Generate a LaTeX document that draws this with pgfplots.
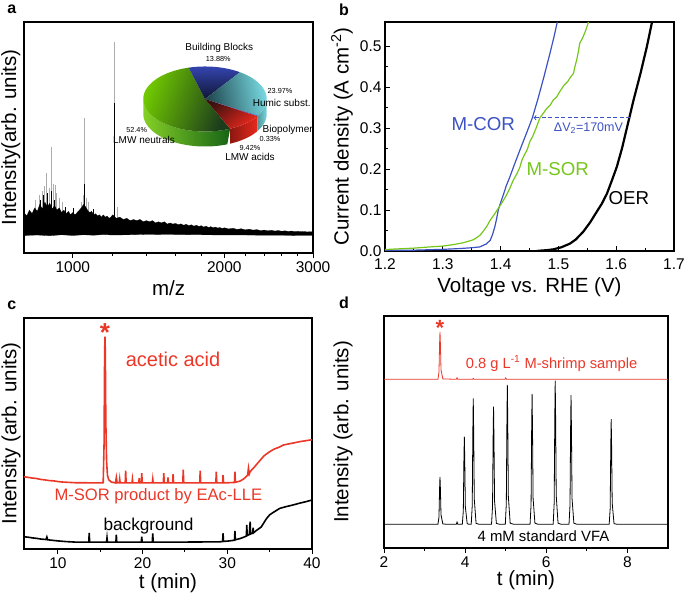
\documentclass[border=0pt]{standalone}
\usepackage{fontspec}
\setmainfont{Liberation Sans}
\usepackage{pgfplots}
\pgfplotsset{compat=1.18}
\definecolor{ored}{RGB}{235,55,40}
\definecolor{oblue}{RGB}{60,82,195}
\definecolor{ogreen}{RGB}{118,198,28}
\definecolor{gL}{RGB}{112,200,0}
\definecolor{gD}{RGB}{28,60,28}
\definecolor{bL}{RGB}{52,68,175}
\definecolor{bD}{RGB}{16,22,50}
\definecolor{cL}{RGB}{120,216,224}
\definecolor{cD}{RGB}{30,70,78}
\definecolor{rL}{RGB}{232,40,28}
\definecolor{rD}{RGB}{60,16,16}
\newcommand{\fs}[1]{\fontsize{#1}{#1}\selectfont}
\begin{document}
\begin{tikzpicture}
\useasboundingbox (0,0) rectangle (685pt,594pt);
\pgfplotsset{every axis/.append style={scale only axis, anchor=south west,
  axis line style={line width=1.1pt}, tick style={line width=0.9pt, black},
  major tick length=5pt, minor tick length=3pt,
  label style={font=\fs{20.5}}, tick label style={font=\fs{15.5}},
  /pgf/number format/assume math mode=true}}
% ---------------- panel a ----------------
\begin{axis}[at={(24pt,341pt)}, width=289pt, height=231pt,
  xmode=log, xmin=800, xmax=3000, ymin=0, ymax=100, ytick=\empty,
  xtick={1000,2000,3000}, xticklabels={1000,2000,3000},
  minor xtick={1200,1400,1600,1800,2200,2400,2600,2800},
  xtick pos=left, tick align=outside, unbounded coords=jump,
  xlabel={m/z}, ylabel={Intensity(arb. units)},
  xlabel style={at={(axis description cs:0.5,-0.152)}, anchor=center},
  ylabel style={at={(axis description cs:-0.046,0.5)}, anchor=center}]
\addplot[gray!65, line width=0.5pt] coordinates {
(842,12)(842,23)(842,nan)(856,12)(856,25)(856,nan)(868,12)(868,27)(868,nan)(878,12)(878,29)(878,nan)
(887,12)(887,34.6)(887,nan)(896,12)(896,28)(896,nan)(908,12)(908,46)(908,nan)(915,12)(915,30)(915,nan)
(923,12)(923,29.4)(923,nan)(929,12)(929,26)(929,nan)(942,12)(942,24)(942,nan)(955,12)(955,22)(955,nan)
(1040,12)(1040,22)(1040,nan)(1048,12)(1048,25)(1048,nan)(1054,12)(1054,58.4)(1054,nan)(1062,12)(1062,24)(1062,nan)
(1075,12)(1075,22)(1075,nan)(1208,12)(1208,91.5)(1208,nan)(1225,12)(1225,20)};
\addplot[fill=black, draw=black, line width=0.3pt] coordinates {
(800,17.5)(810,16.0)(820,18.5)(830,17.0)(840,19.5)(850,18.0)(860,21.0)(870,19.0)(880,22.0)(890,20.0)
(900,21.5)(910,19.0)(920,20.5)(930,18.5)(940,19.5)(950,17.5)(960,18.5)(970,17.0)(980,18.0)(990,16.5)
(1000,17.5)(1010,16.5)(1020,17.5)(1030,18.5)(1040,19.5)(1050,21.0)(1060,20.0)(1070,18.5)(1080,17.5)(1090,18.0)
(1100,16.5)(1110,17.0)(1120,16.0)(1130,16.5)(1140,15.5)(1150,16.5)(1160,15.5)(1170,16.0)(1180,15.0)(1190,15.5)
(1200,16.5)(1220,15.0)(1240,15.5)(1260,14.5)(1280,15.0)(1300,14.0)(1320,14.5)(1340,14.0)(1360,14.5)(1380,13.5)
(1400,14.0)(1420,13.5)(1440,14.0)(1460,13.0)(1480,13.5)(1500,13.0)(1520,13.5)(1540,12.5)(1560,13.0)(1580,12.5)
(1600,12.8)(1620,12.2)(1640,12.6)(1660,12.0)(1680,12.4)(1700,11.8)(1720,12.2)(1740,11.6)(1760,12.0)(1780,11.5)
(1800,11.8)(1820,11.2)(1840,11.6)(1860,11.0)(1880,11.4)(1900,10.9)(1920,11.2)(1940,10.8)(1960,11.0)(1980,10.6)
(2000,10.9)(2040,10.4)(2080,10.7)(2120,10.2)(2160,10.5)(2200,10.0)(2240,10.3)(2280,9.9)(2320,10.1)(2360,9.7)
(2400,9.9)(2440,9.6)(2480,9.8)(2520,9.5)(2560,9.7)(2600,9.4)(2640,9.6)(2680,9.3)(2720,9.5)(2760,9.2)
(2800,9.4)(2840,9.2)(2880,9.3)(2920,9.1)(2960,9.2)(3000,9.1)
(3000,7.6)(2800,7.6)(2600,7.7)(2400,7.7)(2200,7.8)(2000,7.8)(1800,7.9)(1600,8.0)(1400,8.1)(1300,7.9)
(1200,7.8)(1150,8.0)(1100,7.7)(1050,7.9)(1000,7.6)(950,7.9)(900,7.5)(850,7.8)(800,7.6)} -- cycle;
\addplot[black, line width=0.45pt] coordinates {
(860,12)(860,23)(860,nan)(875,12)(875,25)(875,nan)(890,12)(890,26)(890,nan)(905,12)(905,27)(905,nan)
(920,12)(920,23)(920,nan)(965,12)(965,20)(965,nan)(1000,12)(1000,19.5)(1000,nan)(1052,12)(1052,24)(1052,nan)
(1056,12)(1056,30)(1056,nan)(1100,12)(1100,19)(1100,nan)(1208,12)(1208,65)};
\end{axis}
% ---------------- pie inset ----------------
\begin{axis}[at={(135pt,445pt)}, width=140pt, height=90pt, hide axis,
  xmin=-70, xmax=70, ymin=-50, ymax=40, clip=false]
% side walls
\addplot[draw=none, left color=gL!85!white, right color=gD!80!green, domain=0:2, samples=81, variable=\t]
 ({61.7*cos(-180+114.04*ifthenelse(\t<=1,\t,2-\t))},{32.5*sin(-180+114.04*ifthenelse(\t<=1,\t,2-\t))-15*ifthenelse(\t<=1,0,1)}) -- cycle;
\addplot[draw=none, left color=rL!60!black, right color=rL, domain=0:2, samples=81, variable=\t]
 ({61.7*cos(-65.96+33.91*ifthenelse(\t<=1,\t,2-\t))},{32.5*sin(-65.96+33.91*ifthenelse(\t<=1,\t,2-\t))-15*ifthenelse(\t<=1,0,1)}) -- cycle;
\addplot[draw=none, fill=oblue!80!cyan, domain=0:2, samples=21, variable=\t]
 ({61.7*cos(-32.05+1.19*ifthenelse(\t<=1,\t,2-\t))},{32.5*sin(-32.05+1.19*ifthenelse(\t<=1,\t,2-\t))-15*ifthenelse(\t<=1,0,1)}) -- cycle;
\addplot[draw=none, left color=cL!70!black, right color=cL, domain=0:2, samples=41, variable=\t]
 ({61.7*cos(-30.86+30.86*ifthenelse(\t<=1,\t,2-\t))},{32.5*sin(-30.86+30.86*ifthenelse(\t<=1,\t,2-\t))-15*ifthenelse(\t<=1,0,1)}) -- cycle;
% top faces
\addplot[draw=none, top color=gL, bottom color=gD, shading angle=70, domain=-254.6:-65.96, samples=80, variable=\t]
 ({61.7*cos(\t)},{32.5*sin(\t)}) -- (axis cs:0,0) -- cycle;
\addplot[draw=none, top color=bL, bottom color=bD, domain=55.43:105.4, samples=30, variable=\t]
 ({61.7*cos(\t)},{32.5*sin(\t)}) -- (axis cs:0,0) -- cycle;
\addplot[draw=none, top color=cL, bottom color=cD, shading angle=-78, domain=-30.86:55.43, samples=40, variable=\t]
 ({61.7*cos(\t)},{32.5*sin(\t)}) -- (axis cs:0,0) -- cycle;
\addplot[draw=none, fill=oblue, domain=-32.05:-30.86, samples=5, variable=\t]
 ({61.7*cos(\t)},{32.5*sin(\t)}) -- (axis cs:0,0) -- cycle;
\addplot[draw=none, top color=rL, bottom color=rD, shading angle=-139, domain=-65.96:-32.05, samples=30, variable=\t]
 ({61.7*cos(\t)},{32.5*sin(\t)}) -- (axis cs:0,0) -- cycle;
\node[font=\fs{10}] at (axis cs:14.3,50.7) {Building Blocks};
\node[font=\fs{7.3}] at (axis cs:13.3,39.7) {13.88\%};
\node[font=\fs{7.3}] at (axis cs:75,8.3) {23.97\%};
\node[font=\fs{10}] at (axis cs:76.7,-3.7) {Humic subst.};
\node[font=\fs{10}] at (axis cs:82.7,-31) {Biopolymer};
\node[font=\fs{7.3}] at (axis cs:65,-40.3) {0.33\%};
\node[font=\fs{7.3}] at (axis cs:45,-49.3) {9.42\%};
\node[font=\fs{10}] at (axis cs:45,-57.7) {LMW acids};
\node[font=\fs{7.3}] at (axis cs:-68.3,-31) {52.4\%};
\node[font=\fs{10}] at (axis cs:-61,-41) {LMW neutrals};
\end{axis}
% ---------------- panel b ----------------
\begin{axis}[at={(385pt,343pt)}, width=289pt, height=229pt,
  xmin=1.2, xmax=1.7, ymin=0, ymax=0.5585,
  xtick={1.2,1.3,1.4,1.5,1.6,1.7}, ytick={0,0.1,0.2,0.3,0.4,0.5},
  minor x tick num=1, minor y tick num=1, tick pos=left, tick align=inside,
  xticklabel style={yshift=-4pt, /pgf/number format/.cd, fixed, fixed zerofill, precision=1},
  yticklabel style={/pgf/number format/.cd, fixed, fixed zerofill, precision=1},
  xlabel={Voltage vs. RHE (V)}, ylabel={Current density (A cm\textsuperscript{-2})},
  xlabel style={at={(axis description cs:0.5,-0.16)}, anchor=center},
  ylabel style={at={(axis description cs:-0.149,0.5)}, anchor=center}]
\addplot[oblue, line width=1.2pt] coordinates {
(1.20,0.002)(1.25,0.002)(1.30,0.004)(1.33,0.006)(1.35,0.008)(1.364,0.010)(1.375,0.017)(1.382,0.026)(1.386,0.04)(1.39,0.059)(1.393,0.078)(1.396,0.10)(1.40,0.118)(1.405,0.138)(1.41,0.16)(1.415,0.177)(1.425,0.215)(1.435,0.252)(1.445,0.288)(1.455,0.325)(1.465,0.373)(1.475,0.425)(1.485,0.48)(1.492,0.52)(1.498,0.558)};
\addplot[ogreen, line width=1.2pt] coordinates {
(1.20,0.0035)(1.22,0.005)(1.25,0.007)(1.278,0.010)(1.30,0.012)(1.32,0.016)(1.335,0.020)(1.345,0.024)(1.352,0.027)(1.358,0.032)(1.364,0.038)(1.37,0.048)(1.376,0.060)(1.382,0.075)(1.389,0.089)(1.396,0.104)(1.403,0.119)(1.41,0.136)(1.416,0.153)(1.422,0.173)(1.428,0.188)(1.433,0.203)(1.437,0.222)(1.441,0.234)(1.446,0.247)(1.451,0.268)(1.456,0.281)(1.462,0.302)(1.468,0.325)(1.474,0.336)(1.48,0.348)(1.486,0.356)(1.491,0.368)(1.497,0.376)(1.503,0.39)(1.51,0.405)(1.516,0.413)(1.52,0.422)(1.526,0.433)(1.529,0.452)(1.532,0.468)(1.535,0.49)(1.537,0.507)(1.542,0.52)(1.547,0.537)(1.552,0.5585)};
\addplot[black, line width=2.2pt] coordinates {
(1.462,0.0)(1.47,0.001)(1.48,0.002)(1.491,0.004)(1.505,0.009)(1.52,0.018)(1.53,0.028)(1.543,0.047)(1.555,0.07)(1.566,0.095)(1.575,0.115)(1.584,0.14)(1.592,0.17)(1.601,0.205)(1.61,0.25)(1.619,0.303)(1.63,0.368)(1.642,0.433)(1.653,0.498)(1.662,0.5585)};
\addplot[oblue, line width=0.9pt, dash pattern=on 4pt off 2.5pt, ->] coordinates {(1.624,0.325) (1.457,0.325)};
\node[oblue, font=\fs{18.7}, anchor=base] at (axis cs:1.370,0.295) {M-COR};
\node[ogreen, font=\fs{18.7}, anchor=base] at (axis cs:1.499,0.185) {M-SOR};
\node[black, font=\fs{18.7}, anchor=base] at (axis cs:1.622,0.114) {OER};
\node[oblue, font=\fs{12.5}, anchor=base] at (axis cs:1.552,0.292) {ΔV\textsubscript{2}=170mV};
\end{axis}
% ---------------- panel c ----------------
\begin{axis}[at={(24pt,45pt)}, width=288pt, height=231pt,
  xmin=6, xmax=40, ymin=0, ymax=100, ytick=\empty,
  xtick={10,20,30,40}, minor xtick={15,25,35}, xtick pos=left, tick align=outside,
  xlabel={t (min)}, ylabel={Intensity (arb. units)},
  xlabel style={at={(axis description cs:0.5,-0.147)}, anchor=center},
  ylabel style={at={(axis description cs:-0.045,0.5)}, anchor=center}]
\addplot[ored, line width=1.6pt] coordinates {
(6,31.3)(6.5,31.0)(7,30.7)(7.5,30.5)(8,30.1)(8.5,29.9)(9,29.6)(9.5,29.5)(10,29.2)(10.5,29.0)(11,28.9)(11.5,28.8)(12,28.7)(13,28.7)(14,28.6)(15,28.6)(15.35,28.7)(15.45,45)(15.52,85)(15.56,91.9)(15.60,85)(15.66,55)(15.75,38)(15.85,32)(16.0,30.0)(16.3,29.0)(16.8,28.6)(16.9,31.0)(17.0,28.6)(17.25,28.6)(17.3,30.2)(17.35,28.6)(17.95,28.6)(18.0,33.9)(18.06,28.6)(18.75,28.6)(18.8,30.2)(18.85,28.6)(19.55,28.6)(19.6,30.6)(19.65,28.6)(19.85,28.6)(19.9,32.8)(19.96,28.6)(21.15,28.6)(21.2,30.2)(21.25,28.6)(22.45,28.6)(22.5,32.8)(22.56,28.6)(22.95,28.6)(23.0,31.0)(23.05,28.6)(23.55,28.6)(23.6,32.4)(23.66,28.6)(24.75,28.6)(24.8,34.3)(24.86,28.6)(26.75,28.6)(26.8,33.9)(26.86,28.6)(28.65,28.6)(28.7,33.5)(28.76,28.6)(29.45,28.6)(29.5,32.0)(29.56,28.6)(30.85,28.8)(30.9,33.5)(30.96,28.9)(31.5,29.4)(32.0,30.5)(32.4,32.0)(32.5,35.0)(32.6,32.5)(32.7,33.5)(33.2,35.5)(33.9,38.5)(34.3,40.2)(34.65,41.2)(35.0,42.1)(35.5,43.2)(36.2,44.2)(36.6,45.0)(37.4,45.6)(38.2,46.2)(38.6,46.5)(39.3,46.9)(40,47.3)};
\addplot[black, line width=1.6pt] coordinates {
(6,5.3)(6.5,5.1)(7,4.8)(7.5,4.6)(8,4.3)(8.6,4.1)(8.7,5.2)(8.8,4.0)(9,3.9)(10,3.5)(11,3.2)(12,3.0)(13.65,3.0)(13.7,7.0)(13.75,3.0)(15.75,3.0)(15.8,4.8)(15.85,3.0)(16.85,3.0)(16.9,6.2)(16.95,3.0)(19.85,3.0)(19.9,5.3)(19.95,3.0)(21.15,3.0)(21.2,6.8)(21.25,3.0)(25,3.0)(29,3.1)(29.45,3.2)(29.5,6.8)(29.55,3.3)(30,3.4)(30.85,3.8)(30.9,7.8)(30.95,4.0)(31.5,4.5)(32.0,5.2)(32.25,5.6)(32.3,10.4)(32.35,5.8)(32.6,6.3)(32.7,11.8)(32.75,6.5)(33,6.9)(33.05,9.2)(33.1,7.0)(33.5,8.2)(34,9.5)(34.6,13.0)(35,14.8)(35.5,16.0)(36.2,17.6)(37,18.4)(37.7,19.0)(38.5,19.8)(39.3,20.5)(40,21.2)};
\node[ored, font=\fs{26}\bfseries] at (axis cs:15.56,93.5) {*};
\node[ored, font=\fs{20}, anchor=base] at (axis cs:23.6,79.2) {acetic acid};
\node[ored, font=\fs{16.6}, anchor=base] at (axis cs:21.86,20.9) {M-SOR product by EAc-LLE};
\node[black, font=\fs{17.2}, anchor=base] at (axis cs:20.7,7.8) {background};
\end{axis}
% ---------------- panel d ----------------
\begin{axis}[at={(384pt,46pt)}, width=284pt, height=232pt,
  xmin=2, xmax=9, ymin=0, ymax=100, ytick=\empty,
  xtick={2,4,6,8}, minor xtick={3,5,7}, xtick pos=left, tick align=outside,
  xlabel={t (min)}, ylabel={Intensity (arb. units)},
  xlabel style={at={(axis description cs:0.5,-0.14)}, anchor=center},
  ylabel style={at={(axis description cs:-0.144,0.5)}, anchor=center}]
\addplot[ored, line width=0.8pt] coordinates {
(2,72.7)(3.33,72.7)(3.355,75.8)(3.37,88.1)(3.38,93.2)(3.39,88.1)(3.405,76.8)(3.45,72.9)(3.78,72.7)(3.8,73.4)(3.82,72.7)(4.18,72.7)(4.2,73.1)(4.22,72.7)(4.98,72.7)(5.0,73.3)(5.02,72.7)(9,72.7)};
\addplot[black, line width=0.8pt] coordinates {
(2,10.2)(3.33,10.2)(3.355,13.3)(3.37,25.6)(3.38,30.7)(3.39,25.6)(3.405,14.3)(3.45,10.4)(3.55,10.2)
(3.78,10.2)(3.8,11.2)(3.82,10.2)
(3.93,10.2)(3.955,15.9)(3.97,38.6)(3.98,48.0)(3.99,38.6)(4.005,17.8)(4.05,10.5)(4.1,10.2)
(4.15,10.2)(4.175,18.3)(4.19,50.9)(4.20,64.5)(4.21,50.9)(4.225,21.1)(4.27,10.6)(4.35,10.2)
(4.65,10.2)(4.675,17.8)(4.69,48.2)(4.70,60.9)(4.71,48.2)(4.725,20.3)(4.77,10.6)(4.85,10.2)
(4.99,10.2)(5.015,19.2)(5.03,55.3)(5.04,70.3)(5.05,55.3)(5.065,22.2)(5.11,10.7)(5.2,10.2)
(5.60,10.2)(5.625,18.6)(5.64,52.4)(5.65,66.4)(5.66,52.4)(5.675,21.4)(5.72,10.7)(5.8,10.2)
(6.17,10.2)(6.195,19.5)(6.21,56.6)(6.22,72.1)(6.23,56.6)(6.245,22.6)(6.29,10.7)(6.37,10.2)
(6.56,10.2)(6.585,18.6)(6.60,52.0)(6.61,65.9)(6.62,52.0)(6.635,21.3)(6.68,10.7)(6.76,10.2)
(7.55,10.2)(7.575,17.0)(7.59,44.2)(7.60,55.5)(7.61,44.2)(7.625,19.3)(7.67,10.5)(7.75,10.2)(9,10.2)};
\node[ored, font=\fs{22}\bfseries] at (axis cs:3.38,95.0) {*};
\node[ored, font=\fs{14.7}, anchor=base] at (axis cs:6.13,77.5) {0.8 g L\textsuperscript{-1} M-shrimp sample};
\node[black, font=\fs{14.9}, anchor=base] at (axis cs:5.93,2.7) {4 mM standard VFA};
\end{axis}
% panel letters
\node[font=\bfseries\fs{16}] at (11.7pt,584.5pt) {a};
\node[font=\bfseries\fs{16}] at (344pt,584pt) {b};
\node[font=\bfseries\fs{16}] at (11.7pt,289pt) {c};
\node[font=\bfseries\fs{16}] at (344pt,291.5pt) {d};
\end{tikzpicture}
\end{document}
